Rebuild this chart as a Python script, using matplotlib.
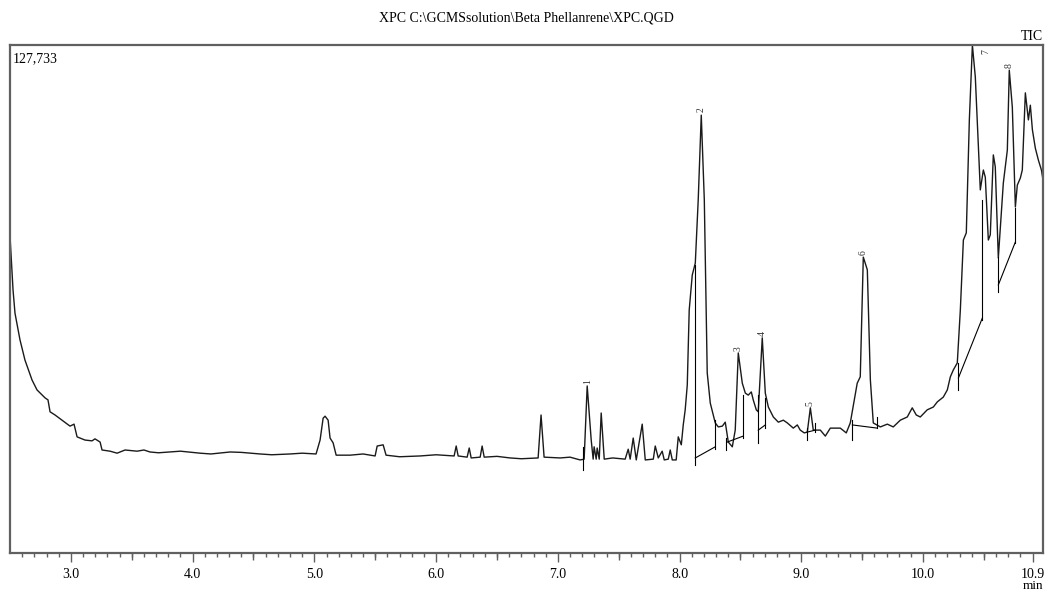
import matplotlib.pyplot as plt

plt.rcParams['font.family'] = ['Liberation Serif', 'DejaVu Serif']

# chromatogram trace (min, counts)
rt = [2.500, 2.525, 2.541, 2.582, 2.623, 2.681, 2.722, 2.788, 2.812, 2.829,
      2.870, 2.927, 2.993, 3.026, 3.051, 3.116, 3.174, 3.198, 3.240, 3.256,
      3.322, 3.380, 3.445, 3.544, 3.600, 3.650, 3.720, 3.815, 3.900, 4.061,
      4.150, 4.308, 4.400, 4.554, 4.650, 4.801, 4.900, 5.014,
      5.047, 5.072, 5.088, 5.113, 5.129, 5.154, 5.179, 5.294, 5.400, 5.499, 5.516,
      5.565, 5.589, 5.700, 5.869, 6.000, 6.148, 6.165, 6.181, 6.255, 6.272, 6.288, 6.362,
      6.378, 6.395, 6.500, 6.608, 6.700, 6.838, 6.862, 6.887, 7.019, 7.100, 7.183, 7.216, 7.241,
      7.274, 7.290, 7.298, 7.315, 7.323, 7.340, 7.356, 7.381, 7.450, 7.553, 7.578,
      7.594, 7.619, 7.644, 7.693, 7.718, 7.784, 7.800, 7.825, 7.857, 7.874,
      7.907, 7.923, 7.940, 7.972, 7.989, 8.014, 8.030, 8.046, 8.063, 8.079,
      8.104, 8.129, 8.153, 8.178, 8.203, 8.227, 8.252, 8.293, 8.318, 8.351,
      8.375, 8.400, 8.433, 8.457, 8.482, 8.515, 8.540, 8.564, 8.589, 8.605,
      8.630, 8.646, 8.679, 8.704, 8.729, 8.770, 8.811, 8.852, 8.885, 8.934,
      8.967, 8.991, 9.024, 9.049, 9.074, 9.098, 9.156, 9.197, 9.238, 9.320,
      9.369, 9.402, 9.435, 9.459, 9.484, 9.509, 9.542, 9.567, 9.591, 9.649,
      9.706, 9.755, 9.813, 9.870, 9.911, 9.944, 9.977, 10.034, 10.084, 10.117,
      10.166, 10.199, 10.224, 10.248, 10.281, 10.306, 10.331, 10.355, 10.380, 10.405,
      10.429, 10.470, 10.495, 10.511, 10.536, 10.552, 10.577, 10.593, 10.618, 10.659,
      10.692, 10.708, 10.733, 10.758, 10.774, 10.799, 10.815, 10.840, 10.865, 10.881,
      10.898, 10.922, 10.947, 10.972, 10.988]
tic = [79700, 66100, 60300, 53600, 48500, 43500, 41000, 39000, 38500, 35500,
       34700, 33400, 31900, 32400, 29200, 28400, 28200, 28700, 27900, 25900,
       25600, 25100, 25900, 25600, 25900, 25400, 25200, 25400, 25600, 25100,
       24900, 25400, 25300, 24900, 24700, 24900, 25100, 24900,
       28400, 33900, 34400, 33400, 28900, 27700, 24600, 24600, 24900, 24400, 26900,
       27200, 24600, 24200, 24400, 24700, 24400, 26900, 24400, 24100, 26400, 23900, 24100,
       26900, 24100, 24300, 23900, 23700, 23900, 34700, 24100, 23900, 24100, 23400, 23600, 42000,
       28400, 23600, 26700, 23600, 26400, 23600, 35200, 23600, 23900, 23600, 26100,
       23600, 28900, 23400, 32400, 23400, 23600, 26900, 23900, 25600, 23400,
       23600, 25900, 23400, 23400, 29200, 27200, 32200, 36000, 42200, 61100,
       69900, 72900, 88800, 110100, 88800, 45300, 37700, 32700, 31700, 31900,
       32900, 27900, 26700, 30900, 50300, 42700, 40200, 39700, 40500, 38500,
       36000, 35500, 54100, 40200, 36700, 34200, 32900, 33400, 32700, 31400,
       32200, 30900, 30200, 30400, 36500, 30900, 30900, 29400, 31400, 31400,
       30200, 32700, 38500, 42700, 44300, 74400, 71200, 43500, 32700, 31700,
       32400, 31700, 33400, 34200, 36500, 34700, 34200, 36000, 36700, 38000,
       39200, 41000, 44300, 46000, 47800, 61100, 78700, 80500, 108900, 127700,
       119700, 91300, 96300, 94500, 78700, 80000, 100100, 97100, 74200, 93000,
       101300, 121400, 112100, 87000, 92500, 94300, 96300, 115700, 108900, 112600,
       106400, 101800, 98800, 96300, 93300]

# integration marks: vertical ticks (min, low, high) and baselines (t0, i0, t1, i1)
int_ticks = [(7.208, 20900, 26700), (8.129, 22100, 72400), (8.293, 26200, 33400),
             (8.383, 25900, 28900), (8.523, 28900, 39700), (8.646, 27700, 39700),
             (8.704, 31400, 39000), (9.049, 28400, 31400), (9.115, 30400, 32700),
             (9.419, 28400, 33400), (9.624, 31400, 34200), (10.290, 41000, 47800),
             (10.487, 58600, 88800), (10.618, 65600, 74400), (10.758, 77900, 86700)]
int_baselines = [(8.129, 23900, 8.293, 26700), (8.392, 27900, 8.523, 29400),
                 (8.646, 30900, 8.704, 32200), (9.049, 30400, 9.115, 30900),
                 (9.419, 32200, 9.624, 31400), (10.290, 44000, 10.487, 59100),
                 (10.618, 67400, 10.758, 78200)]

peak_ids = ['1', '2', '3', '4', '5', '6', '7', '8']
peak_rt = [7.241, 8.178, 8.482, 8.679, 9.074, 9.509, 10.515, 10.708]
peak_top = [42600, 110800, 50800, 54600, 37000, 74900, 125500, 121900]

y_max = 127733
x_major = [3.0, 4.0, 5.0, 6.0, 7.0, 8.0, 9.0, 10.0, 10.9]
x_half = [3.5, 4.5, 5.5, 6.5, 7.5, 8.5, 9.5, 10.5]

frame = '#606060'

fig = plt.figure(figsize=(10.51, 5.95), dpi=100)
ax = fig.add_axes([10 / 1051, 1 - 553 / 595, 1033 / 1051, 508 / 595])

ax.plot(rt, tic, color='#1a1a1a', lw=1.0)

for t, lo, hi in int_ticks:
    ax.plot([t, t], [lo, hi], color='black', lw=0.8)
for t0, i0, t1, i1 in int_baselines:
    ax.plot([t0, t1], [i0, i1], color='black', lw=0.8)

for lab, t, h in zip(peak_ids, peak_rt, peak_top):
    ax.text(t, h, lab, rotation=90, fontsize=7, ha='center', va='bottom',
            color='#333333', clip_on=False)

ax.set_xlim(2.5, 10.985)
ax.set_ylim(0, y_max)

ax.set_xticks(x_major)
ax.set_xticklabels(['%.1f' % v for v in x_major], fontsize=10)
ax.set_xticks([2.5 + 0.1 * i for i in range(1, 85)], minor=True)
ax.tick_params(axis='x', which='major', direction='out', length=6.5, width=1,
               color=frame, pad=4)
ax.tick_params(axis='x', which='minor', direction='out', length=3, width=1,
               color=frame)
ax.set_yticks([])

sec = ax.secondary_xaxis('bottom')
sec.set_xticks(x_half)
sec.set_xticklabels([''] * len(x_half))
sec.tick_params(direction='out', length=5, width=1, color=frame)
sec.spines['bottom'].set_visible(False)

for s in ax.spines.values():
    s.set_color(frame)
    s.set_linewidth(1.6)

ax.text(0.003, 0.985, '127,733', transform=ax.transAxes, fontsize=10,
        ha='left', va='top')
fig.text(1043 / 1051, 1 - 36 / 595, 'TIC', fontsize=10, ha='right', va='center')
fig.text(526 / 1051, 1 - 18 / 595, 'XPC C:\\GCMSsolution\\Beta Phellanrene\\XPC.QGD',
         fontsize=10, ha='center', va='center')
fig.text(1033 / 1051, 1 - 586 / 595, 'min', fontsize=9.5, ha='center', va='center')

fig.savefig('out.png', dpi=100)
